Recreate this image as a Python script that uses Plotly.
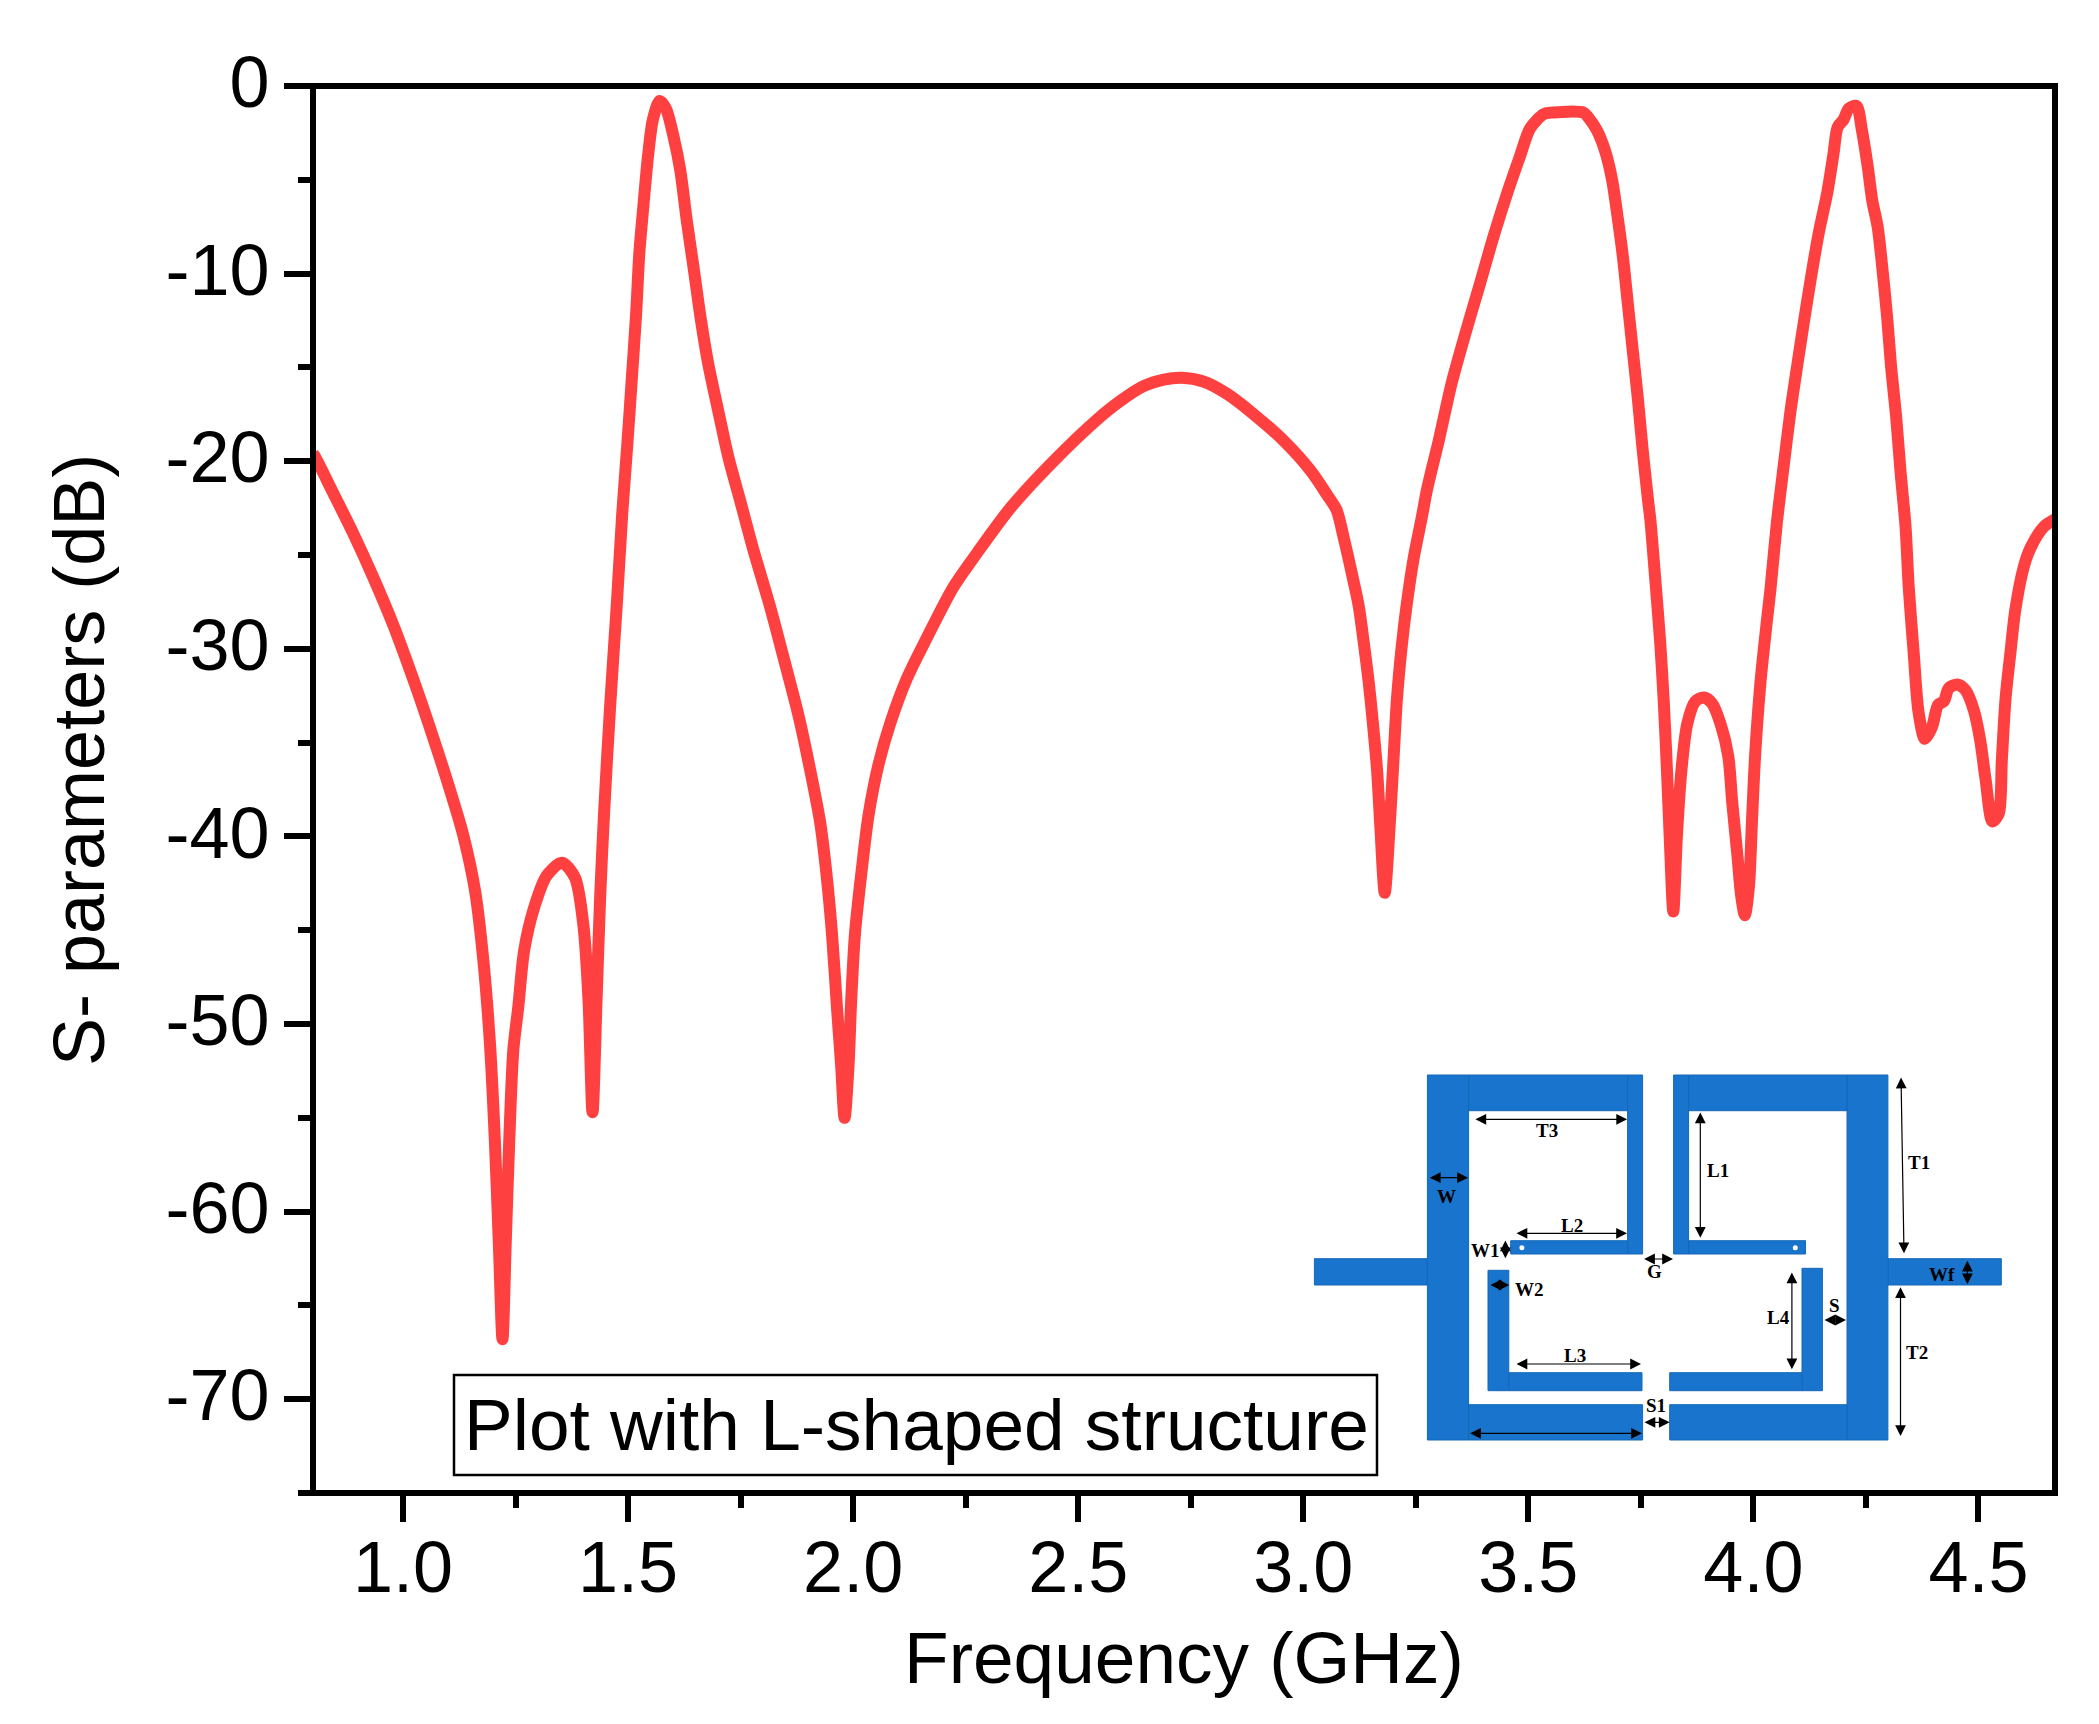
import plotly.graph_objects as go

# values
freq = [0.8, 0.804, 0.845, 0.89, 0.934, 0.979, 1.023, 1.067, 1.104, 1.134, 1.16, 1.178, 1.193, 1.204, 1.213, 1.221,
        1.228, 1.236, 1.245, 1.256, 1.269, 1.29, 1.319, 1.353, 1.382, 1.401, 1.412, 1.421, 1.43, 1.438, 1.447,
        1.46, 1.475, 1.487, 1.498, 1.508, 1.518, 1.525, 1.534, 1.544, 1.555, 1.57, 1.584, 1.601, 1.616, 1.63,
        1.645, 1.662, 1.678, 1.701, 1.723, 1.749, 1.778, 1.816, 1.849, 1.878, 1.904, 1.927, 1.942, 1.953, 1.964,
        1.973, 1.981, 1.99, 1.995, 2.004, 2.019, 2.034, 2.056, 2.082, 2.119, 2.164, 2.223, 2.275, 2.349, 2.445,
        2.541, 2.593, 2.645, 2.69, 2.73, 2.778, 2.83, 2.89, 2.956, 3.016, 3.053, 3.074, 3.09, 3.108, 3.123,
        3.134, 3.145, 3.154, 3.164, 3.171, 3.181, 3.192, 3.2, 3.208, 3.219, 3.23, 3.245, 3.264, 3.275, 3.301,
        3.33, 3.36, 3.393, 3.423, 3.456, 3.482, 3.504, 3.534, 3.549, 3.623, 3.634, 3.652, 3.671, 3.686, 3.699,
        3.71, 3.721, 3.732, 3.743, 3.754, 3.766, 3.771, 3.782, 3.793, 3.801, 3.808, 3.814, 3.822, 3.83, 3.84,
        3.853, 3.871, 3.89, 3.908, 3.927, 3.944, 3.953, 3.964, 3.973, 3.981, 3.99, 3.997, 4.004, 4.016, 4.03,
        4.038, 4.052, 4.067, 4.082, 4.098, 4.112, 4.128, 4.145, 4.164, 4.178, 4.187, 4.2, 4.212, 4.229, 4.241,
        4.254, 4.264, 4.276, 4.286, 4.297, 4.306, 4.317, 4.327, 4.338, 4.345, 4.356, 4.367, 4.381, 4.397, 4.41,
        4.423, 4.434, 4.453, 4.471, 4.49, 4.504, 4.516, 4.531, 4.545, 4.552, 4.56, 4.571, 4.582, 4.601, 4.616,
        4.645, 4.67]
s_db = [-19.6, -19.74, -21.7, -23.88, -26.2, -28.77, -31.64, -34.73, -37.5, -39.95, -42.9, -46.5, -51.0, -56.2, -61.8, -66.8,
        -61.8, -56.2, -51.4, -49.1, -46.1, -43.9, -42.1, -41.4, -42.2, -44.8, -48.7, -54.7, -48.7, -43.2, -38.6,
        -33.1, -27.6, -22.8, -19.2, -15.7, -12.1, -8.9, -6.4, -3.8, -1.8, -0.8, -1.2, -2.7, -4.5, -7.1,
        -9.6, -12.5, -14.8, -17.4, -19.8, -22.1, -24.7, -27.8, -30.8, -33.5, -36.4, -39.3, -42.3, -45.2, -49.1,
        -52.1, -55.0, -52.1, -49.1, -45.2, -41.8, -38.9, -36.2, -34.0, -31.6, -29.4, -26.7, -24.9, -22.5, -20.0,
        -17.8, -16.8, -16.0, -15.65, -15.55, -15.75, -16.4, -17.5, -18.9, -20.5, -21.8, -22.6, -24.1, -26.0, -27.7,
        -29.6, -31.7, -33.8, -36.5, -39.4, -43.0, -39.4, -36.1, -32.7, -29.8, -27.6, -25.2, -22.9, -21.5, -18.9,
        -15.8, -13.2, -10.5, -8.0, -5.5, -3.7, -2.25, -1.5, -1.42, -1.42, -1.7, -2.35, -3.5, -5.0, -7.1,
        -9.1, -11.6, -14.1, -16.6, -19.4, -22.1, -23.1, -26.3, -29.7, -32.9, -36.5, -40.0, -44.0, -40.0, -36.5,
        -34.0, -32.8, -32.6, -32.9, -34.0, -35.7, -38.2, -40.9, -43.2, -44.2, -42.7, -39.1, -35.6, -31.7, -28.5,
        -26.8, -23.3, -20.3, -17.4, -14.8, -12.6, -10.2, -7.85, -5.7, -3.6, -2.2, -1.8, -1.2, -1.07, -2.35,
        -4.3, -6.1, -7.5, -9.6, -12.3, -15.0, -17.6, -20.6, -23.5, -26.7, -30.2, -33.4, -34.8, -34.15, -33.0,
        -32.8, -32.1, -31.9, -32.2, -33.3, -34.9, -37.0, -39.2, -38.8, -35.9, -32.7, -30.2, -27.9, -25.6, -24.6,
        -23.5, -23.1]
x_ticks = [1.0, 1.5, 2.0, 2.5, 3.0, 3.5, 4.0, 4.5]
y_ticks = [0, -10, -20, -30, -40, -50, -60, -70]

# inset parts of the resonator drawing, in picture pixels
inset_rects = [
    (1314.4, 1258.7, 1427.4, 1285), (1887.9, 1258.7, 2001.3, 1285),
    (1427.4, 1075, 1468.6, 1440), (1847, 1075, 1887.9, 1440),
    (1468.6, 1075, 1627.6, 1110.7), (1688.6, 1075, 1847, 1110.7),
    (1627.6, 1075, 1642.6, 1254), (1673.6, 1075, 1688.6, 1254),
    (1510.7, 1240.7, 1627.6, 1254), (1688.6, 1240.7, 1805.5, 1254),
    (1488, 1270.3, 1508.8, 1390.7), (1508.8, 1372.7, 1642, 1390.7),
    (1802, 1268.3, 1822.4, 1390.7), (1669.7, 1372.7, 1802, 1390.7),
    (1468.6, 1404.7, 1642.6, 1440), (1669.7, 1404.7, 1847, 1440),
]
inset_holes = [(1521.9, 1247.7), (1795.3, 1247.7)]
inset_arrows = [
    (1473.9, 1119.3, 1627.1, 1119.3), (1428.3, 1177.7, 1468, 1177.7), (1515, 1233.3, 1627, 1233.3),
    (1505.4, 1239, 1505.4, 1258.3), (1700.3, 1111, 1700.3, 1237.7), (1901, 1076, 1904, 1253.3),
    (1642.6, 1259, 1673, 1259), (1967.4, 1259.3, 1967.4, 1284.3), (1489, 1285, 1509.3, 1285),
    (1791.9, 1271, 1791.9, 1369.3), (1823, 1320, 1846, 1320), (1900.5, 1285.7, 1900.5, 1436),
    (1515, 1364, 1641, 1364), (1643, 1422.3, 1669.7, 1422.3), (1468.6, 1433.3, 1642, 1433.3),
]
inset_labels = [
    ("T3", 1547, 1130.7), ("W", 1446.7, 1196.7), ("L2", 1572.3, 1225.3), ("W1", 1485.5, 1250),
    ("L1", 1718.2, 1170.7), ("T1", 1919.4, 1162), ("G", 1654.2, 1271.7), ("Wf", 1942.1, 1274.3),
    ("W2", 1529.2, 1289.3), ("S", 1834, 1305), ("L4", 1778.8, 1317.7), ("T2", 1916.5, 1352.7),
    ("L3", 1575.2, 1355.3), ("S1", 1655.7, 1405.3),
]

LEFT, RIGHT, TOP, BOTTOM = 313, 2055, 86, 1493
FONT = "Liberation Sans"


def px(x):
    return (x - LEFT) / (RIGHT - LEFT)


def py(y):
    return (BOTTOM - y) / (BOTTOM - TOP)


fig = go.Figure()
fig.add_trace(go.Scatter(x=freq, y=s_db, mode="lines",
                         line=dict(color="#FF4040", width=12, shape="spline", smoothing=0.8), showlegend=False))

shapes = []
for x0, y0, x1, y1 in inset_rects:
    shapes.append(dict(type="rect", xref="paper", yref="paper", x0=px(x0), x1=px(x1), y0=py(y0), y1=py(y1),
                       fillcolor="#1874CD", line=dict(color="#1568B8", width=1)))
for cx, cy in inset_holes:
    shapes.append(dict(type="circle", xref="paper", yref="paper", x0=px(cx - 2.5), x1=px(cx + 2.5),
                       y0=py(cy - 2.5), y1=py(cy + 2.5), fillcolor="white", line=dict(width=0)))
# label box
shapes.append(dict(type="rect", xref="paper", yref="paper", x0=px(454), x1=px(1377), y0=py(1375), y1=py(1475),
                   fillcolor="white", line=dict(color="black", width=2.5)))
# frame
shapes.append(dict(type="rect", xref="paper", yref="paper", x0=0, x1=1, y0=0, y1=1, layer="above",
                   line=dict(color="black", width=6)))

annotations = []
for x0, y0, x1, y1 in inset_arrows:
    annotations.append(dict(x=px(x1), y=py(y1), xref="paper", yref="paper", ax=x0 - x1, ay=y0 - y1,
                            text="", showarrow=True, arrowhead=2, arrowside="end+start", arrowsize=1.8,
                            arrowwidth=1.2, arrowcolor="black", standoff=0, startstandoff=0))
for label, x, y in inset_labels:
    annotations.append(dict(x=px(x), y=py(y), xref="paper", yref="paper", text="<b>" + label + "</b>",
                            xanchor="center", yanchor="middle", showarrow=False,
                            font=dict(family="Liberation Serif", size=19, color="black")))
annotations.append(dict(x=px(916), y=py(1424), xref="paper", yref="paper", text="Plot with L-shaped structure",
                        xanchor="center", yanchor="middle", showarrow=False,
                        font=dict(family=FONT, size=73, color="black")))
annotations.append(dict(x=px(79), y=py(760), xref="paper", yref="paper", text="S- parameters (dB)", textangle=-90,
                        xanchor="center", yanchor="middle", showarrow=False,
                        font=dict(family=FONT, size=72, color="black")))

fig.update_layout(
    width=2099, height=1724, margin=dict(l=LEFT, r=2099 - RIGHT, t=TOP, b=1724 - BOTTOM),
    paper_bgcolor="white", plot_bgcolor="white", showlegend=False,
    font=dict(family=FONT, size=72, color="black"),
    shapes=shapes, annotations=annotations,
)
fig.update_xaxes(range=[0.8, 4.67], tickvals=x_ticks, ticktext=["%.1f" % t for t in x_ticks],
                 ticks="outside", ticklen=28, tickwidth=6, tickcolor="black", showgrid=False, zeroline=False,
                 showline=False, tickfont=dict(family=FONT, size=72), ticklabelstandoff=-16,
                 minor=dict(dtick=0.25, tick0=0.25, ticks="outside", ticklen=14, tickwidth=6, tickcolor="black",
                            showgrid=False),
                 title=dict(text="Frequency (GHz)", font=dict(family=FONT, size=73), standoff=25))
fig.update_yaxes(range=[-75, 0], tickvals=y_ticks, ticktext=[str(t) for t in y_ticks],
                 ticks="outside", ticklen=28, tickwidth=6, tickcolor="black", showgrid=False, zeroline=False,
                 showline=False, tickfont=dict(family=FONT, size=72), ticklabelshift=-4,
                 minor=dict(dtick=5, tick0=0, ticks="outside", ticklen=14, tickwidth=6, tickcolor="black",
                            showgrid=False))

fig.write_html("out.html", config=dict(displayModeBar=False), post_script="document.body.style.margin='0';")
